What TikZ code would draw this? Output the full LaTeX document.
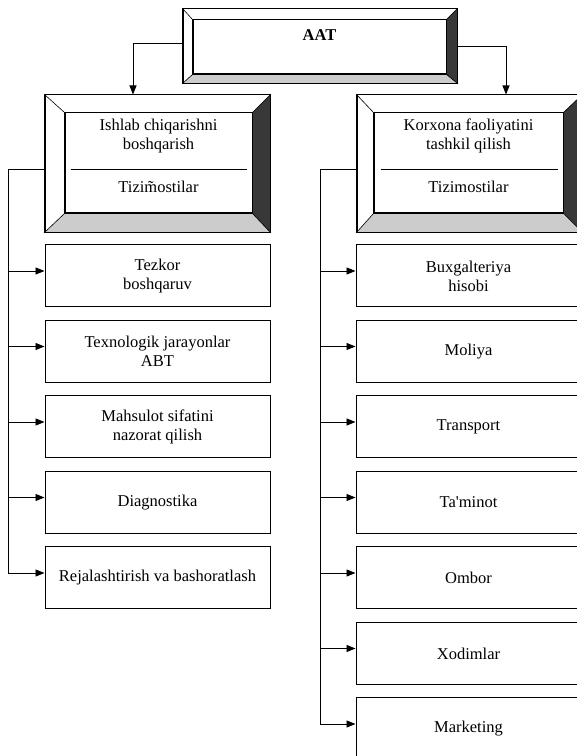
\documentclass[tikz,border=0pt]{standalone}
\usepackage{fontspec}
\setmainfont{Liberation Serif}
\usetikzlibrary{arrows.meta,positioning,calc}
\newcommand{\sz}{\fontsize{16.5}{19}\selectfont}
\tikzset{
  bevout/.style={draw,line width=1pt,inner sep=0pt,fill=white},
  bevin/.style={draw,line width=1pt,inner sep=0pt},
  leaf/.style={draw,line width=1pt,minimum width=225pt,minimum height=62pt,
    inner sep=2pt,align=center,font=\sz},
  txt/.style={align=center,font=\sz,inner sep=0pt},
  feed/.style={line width=0.8pt,-{Triangle[length=9pt,width=7pt]}},
  bus/.style={line width=0.8pt},
  bvdark/.style={fill=black!78,draw,line width=0.6pt},
  bvlight/.style={fill=black!20,draw,line width=0.6pt},
}

\begin{document}
\begin{tikzpicture}[x=1pt,y=1pt]
  \useasboundingbox (0,0) rectangle (577,756);
  \clip (0,0) rectangle (577,756);
  % bevelled frames
  \node[bevout,minimum width=274pt,minimum height=74pt](aat) at (320,710){};
  \node[bevin,minimum width=253pt,minimum height=54pt](aati) at (319.5,709){};
  \node[bevout,minimum width=225pt,minimum height=137pt](lf) at (157.5,592.5){};
  \node[bevin,minimum width=187pt,minimum height=100pt](lfi) at (158.5,593){};
  \node[bevout,minimum width=225pt,minimum height=137pt](rf) at (469.5,592.5){};
  \node[bevin,minimum width=189pt,minimum height=100pt](rfi) at (468.5,593){};
  \foreach \o/\i in {aat/aati,lf/lfi,rf/rfi}{
    \filldraw[bvdark] (\o.north east)--(\i.north east)--(\i.south east)--(\o.south east)--cycle;
    \filldraw[bvlight] (\o.south west)--(\i.south west)--(\i.south east)--(\o.south east)--cycle;
    \draw[line width=0.6pt] (\o.north west)--(\i.north west);
    \draw[line width=1pt] (\o.north west) rectangle (\o.south east);
    \draw[line width=1pt] (\i.north west) rectangle (\i.south east);
  }
  \node[txt,font=\sz\bfseries](aatt) at ([yshift=12]aati.center){AAT};
  \node[txt](lt) at ([yshift=27]lfi.center){Ishlab chiqarishni\\boshqarish};
  \draw[line width=0.8pt] ([shift={(6,-6)}]lfi.west)--([shift={(-6,-6)}]lfi.east);
  \node[txt](ls) at ([yshift=-24]lfi.center){Tizi\~mostilar};
  \node[txt](rt) at ([yshift=27]rfi.center){Korxona faoliyatini\\tashkil qilish};
  \draw[line width=0.8pt] ([shift={(7,-6)}]rfi.west)--([shift={(-6,-6)}]rfi.east);
  \node[txt](rs) at ([yshift=-24]rfi.center){Tizimostilar};
  \draw[feed] ([yshift=3]aat.west) -| ([xshift=-24.5]lf.north);
  \draw[feed] (aat.east) -| ([xshift=36.5]rf.north);
  % subsystems
  \foreach \t [count=\k from 0] in {{Tezkor\\boshqaruv},{Texnologik jarayonlar\\ABT},
    {Mahsulot sifatini\\nazorat qilish},{Diagnostika},{Rejalashtirish va bashoratlash}}
    \node[leaf](l\k) at (157.5,{480-75.5*\k}){\t};
  \foreach \t [count=\k from 0] in {{Buxgalteriya\\hisobi},{Moliya},{Transport},
    {Ta\textquotesingle minot},{Ombor},{Xodimlar},{Marketing}}
    \node[leaf](r\k) at (468.5,{480-75.5*\k}){\t};
  \coordinate (lb) at (8,587);
  \coordinate (rb) at (320,587);
  \foreach \k in {0,...,4}{
    \coordinate (l\k-in) at ([yshift=5]l\k.west);
    \draw[feed] (lb |- l\k-in)--(l\k-in);
  }
  \foreach \k in {0,...,6}{
    \coordinate (r\k-in) at ([yshift=5]r\k.west);
    \draw[feed] (rb |- r\k-in)--(r\k-in);
  }
  \draw[bus] ([yshift=-5.5]lf.west)--(lb)--(lb |- l4-in);
  \draw[bus] ([yshift=-5.5]rf.west)--(rb)--(rb |- r6-in);
\end{tikzpicture}
\end{document}
